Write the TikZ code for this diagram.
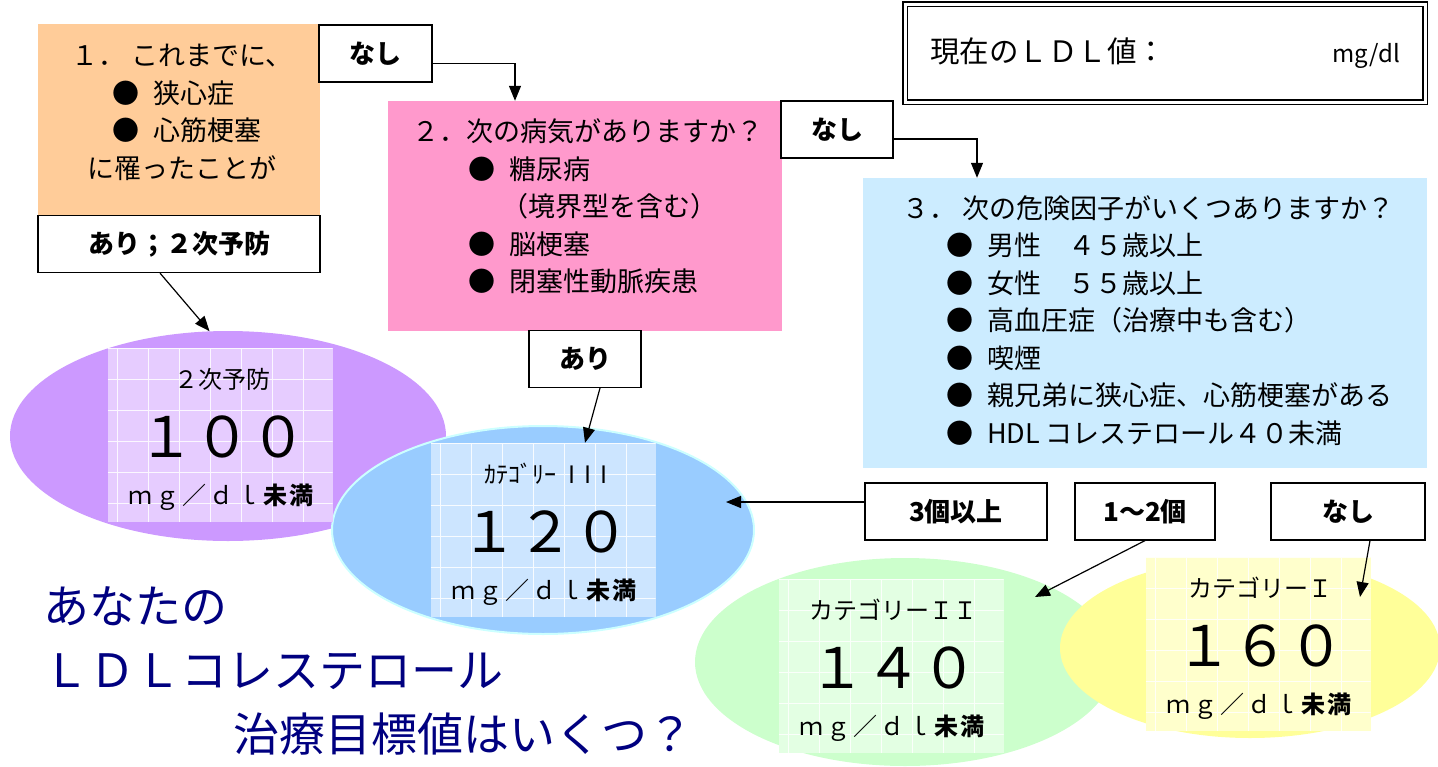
\documentclass[tikz,border=0pt]{standalone}
\usepackage{fontspec}
\setmainfont{Noto Sans CJK JP}
\usetikzlibrary{shapes.geometric}
\usetikzlibrary{positioning, arrows.meta}

\definecolor{peach}{HTML}{FFCC99}
\definecolor{pinkq}{HTML}{FF99CC}
\definecolor{skyq}{HTML}{CCECFF}
\definecolor{lilac}{HTML}{CC99FF}
\definecolor{lilaclight}{HTML}{E6CCFF}
\definecolor{sky}{HTML}{99CCFF}
\definecolor{skylight}{HTML}{CCE5FF}
\definecolor{aqua}{HTML}{CCFFFF}
\definecolor{mint}{HTML}{CCFFCC}
\definecolor{mintlight}{HTML}{E3FFE3}
\definecolor{lemon}{HTML}{FFFF99}
\definecolor{lemonlight}{HTML}{FFFFCC}
\definecolor{navytext}{HTML}{000080}

\newcommand{\fsz}[2]{\fontsize{#1}{#2}\selectfont}
\newcommand{\unitmg}{{\addfontfeatures{LetterSpace=12}ｍｇ／ｄｌ\textbf{未満}}}

\begin{document}
\begin{tikzpicture}[x=1pt, y=-1pt]
        % Define styles for shapes
        \tikzstyle{question} = [inner sep=0pt, minimum height=1cm]
        \tikzstyle{answer} = [draw, line width=1.2pt, fill=white, inner sep=0pt, minimum height=57pt, font=\fsz{26}{30}\bfseries]
        \tikzstyle{target} = [ellipse, inner sep=0pt]
        \tikzstyle{card} = [inner sep=0pt, minimum width=225pt, minimum height=172pt,
            path picture={\draw[white, opacity=0.85, line width=0.7pt] (path picture bounding box.north west) grid[step=31pt] (path picture bounding box.south east);}]
        \tikzstyle{arrowline} = [line width=1.2pt, -{Triangle[length=15pt, width=12pt]}]
        \useasboundingbox (0, 0) rectangle (1438, 766);

        % Draw target ellipses
        \node[target, fill=lilac, minimum width=436pt, minimum height=210pt] (ell100) at (228, 436) {};
        \node[target, fill=sky, draw=aqua, line width=2pt, minimum width=422pt, minimum height=208pt] (ell120) at (543, 530) {};
        \node[target, fill=mint, minimum width=420pt, minimum height=208pt] (ell140) at (905, 662) {};
        \node[target, fill=lemon, minimum width=380pt, minimum height=180pt] (ell160) at (1250, 648) {};

        \node[card, fill=lilaclight] (val100) at (220, 435) {
            \fsz{24}{58}
                \begin{tabular}{c}
                    ２次予防 \\
                    \raisebox{-11pt}[0pt][0pt]{\fsz{56}{56}１００} \\
                    \unitmg
                \end{tabular}
        };
        \node[card, fill=skylight] (val120) at (543, 530) {
            \fsz{24}{58}
                \begin{tabular}{c}
                    ｶﾃｺﾞﾘｰ\hspace{12pt}I\hspace{9pt}I\hspace{9pt}I \\
                    \raisebox{-11pt}[0pt][0pt]{\fsz{56}{56}１２０} \\
                    \unitmg
                \end{tabular}
        };
        \node[card, fill=mintlight] (val140) at (891, 666) {
            \fsz{24}{58}
                \begin{tabular}{c}
                    カテゴリーＩＩ \\
                    \raisebox{-11pt}[0pt][0pt]{\fsz{56}{56}１４０} \\
                    \unitmg
                \end{tabular}
        };
        \node[card, fill=lemonlight] (val160) at (1258, 644) {
            \fsz{24}{58}
                \begin{tabular}{c}
                    カテゴリーＩ \\
                    \raisebox{-11pt}[0pt][0pt]{\fsz{56}{56}１６０} \\
                    \unitmg
                \end{tabular}
        };

        % Draw question boxes
        \node[question, fill=peach, minimum width=282pt, minimum height=191pt] (q1) at (179, 119.5) {
            \fsz{27}{37.5}
                \begin{tabular}{c}
                    １．\hspace{6pt}これまでに、 \\
                    \hspace{10pt}●\hspace{14pt}狭心症\phantom{塞} \\
                    \hspace{10pt}●\hspace{14pt}心筋梗塞 \\
                    に罹ったことが \\[10pt]
                \end{tabular}
        };
        \node[question, fill=pinkq, minimum width=394pt, minimum height=230pt] (q2) at (585, 216) {
            \fsz{27}{37.5}
                \begin{tabular}{l}
                    ２．次の病気がありますか？ \\
                    \hspace{56pt}●\hspace{14pt}糖尿病 \\
                    \hspace{56pt}\phantom{●}\hspace{6pt}（境界型を含む） \\
                    \hspace{56pt}●\hspace{14pt}脳梗塞 \\
                    \hspace{56pt}●\hspace{14pt}閉塞性動脈疾患 \\[14pt]
                \end{tabular}
        };
        \node[question, fill=skyq, minimum width=564pt, minimum height=290pt] (q3) at (1145, 323) {
            \fsz{27}{37.5}
                \begin{tabular}{l}
                    ３．\hspace{6pt}次の危険因子がいくつありますか？ \\
                    \hspace{44pt}●\hspace{14pt}男性　４５歳以上 \\
                    \hspace{44pt}●\hspace{14pt}女性　５５歳以上 \\
                    \hspace{44pt}●\hspace{14pt}高血圧症（治療中も含む） \\
                    \hspace{44pt}●\hspace{14pt}喫煙 \\
                    \hspace{44pt}●\hspace{14pt}親兄弟に狭心症、心筋梗塞がある \\
                    \hspace{44pt}●\hspace{14pt}HDL コレステロール４０未満
                \end{tabular}
        };

        \node[draw, double, line width=1.2pt, double distance=3pt, text width=470pt, align=left,
              inner xsep=25pt, minimum height=98pt] (now) at (1165, 53) {
            \fsz{29.5}{30}現在のＬＤＬ値：\hfill{\fsz{24}{30}mg/dl}
        };

        % Draw answer labels
        \node[answer, minimum width=113pt] (no1) at (375.5, 53.5) {なし};
        \node[answer, minimum width=282pt] (yes1) at (179, 244) {あり；２次予防};
        \node[answer, minimum width=112pt] (no2) at (837, 129.5) {なし};
        \node[answer, minimum width=112pt] (yes2) at (585, 359) {あり};
        \node[answer, minimum width=182pt] (many) at (956, 511.5) {3個以上};
        \node[answer, minimum width=140pt] (few) at (1145, 511.5) {1～2個};
        \node[answer, minimum width=154pt] (none) at (1348, 511.5) {なし};

        \coordinate (tip120) at (726, 502);
        \coordinate (tip140) at (1035, 597);
        \coordinate (tip160) at (1360, 597);

        % Draw arrows
        \draw[arrowline] ([yshift=-10pt]no1.east) -| ([xshift=-70pt]q2.north);
        \draw[arrowline] ([yshift=-9.5pt]no2.east) -| ([xshift=-168pt]q3.north);
        \draw[arrowline] ([xshift=-19pt]yes1.south) -- (ell100.100);
        \draw[arrowline] ([xshift=15pt]yes2.south) -- ([xshift=42pt]val120.north);
        \draw[arrowline] ([yshift=9.5pt]many.west) -- (tip120);
        \draw[arrowline] (few.south) -- (tip140);
        \draw[arrowline] ([xshift=22pt]none.south) -- (tip160);

        % Title
        \node[anchor=west, text=navytext, inner sep=0pt] (title) at (33, 675) {
            \fsz{46}{64}
                \begin{tabular}{@{}l@{}}
                    あなたの \\
                    ＬＤＬコレステロール \\
                    \hspace{190pt}治療目標値はいくつ？
                \end{tabular}
        };
    \end{tikzpicture}
\end{document}
